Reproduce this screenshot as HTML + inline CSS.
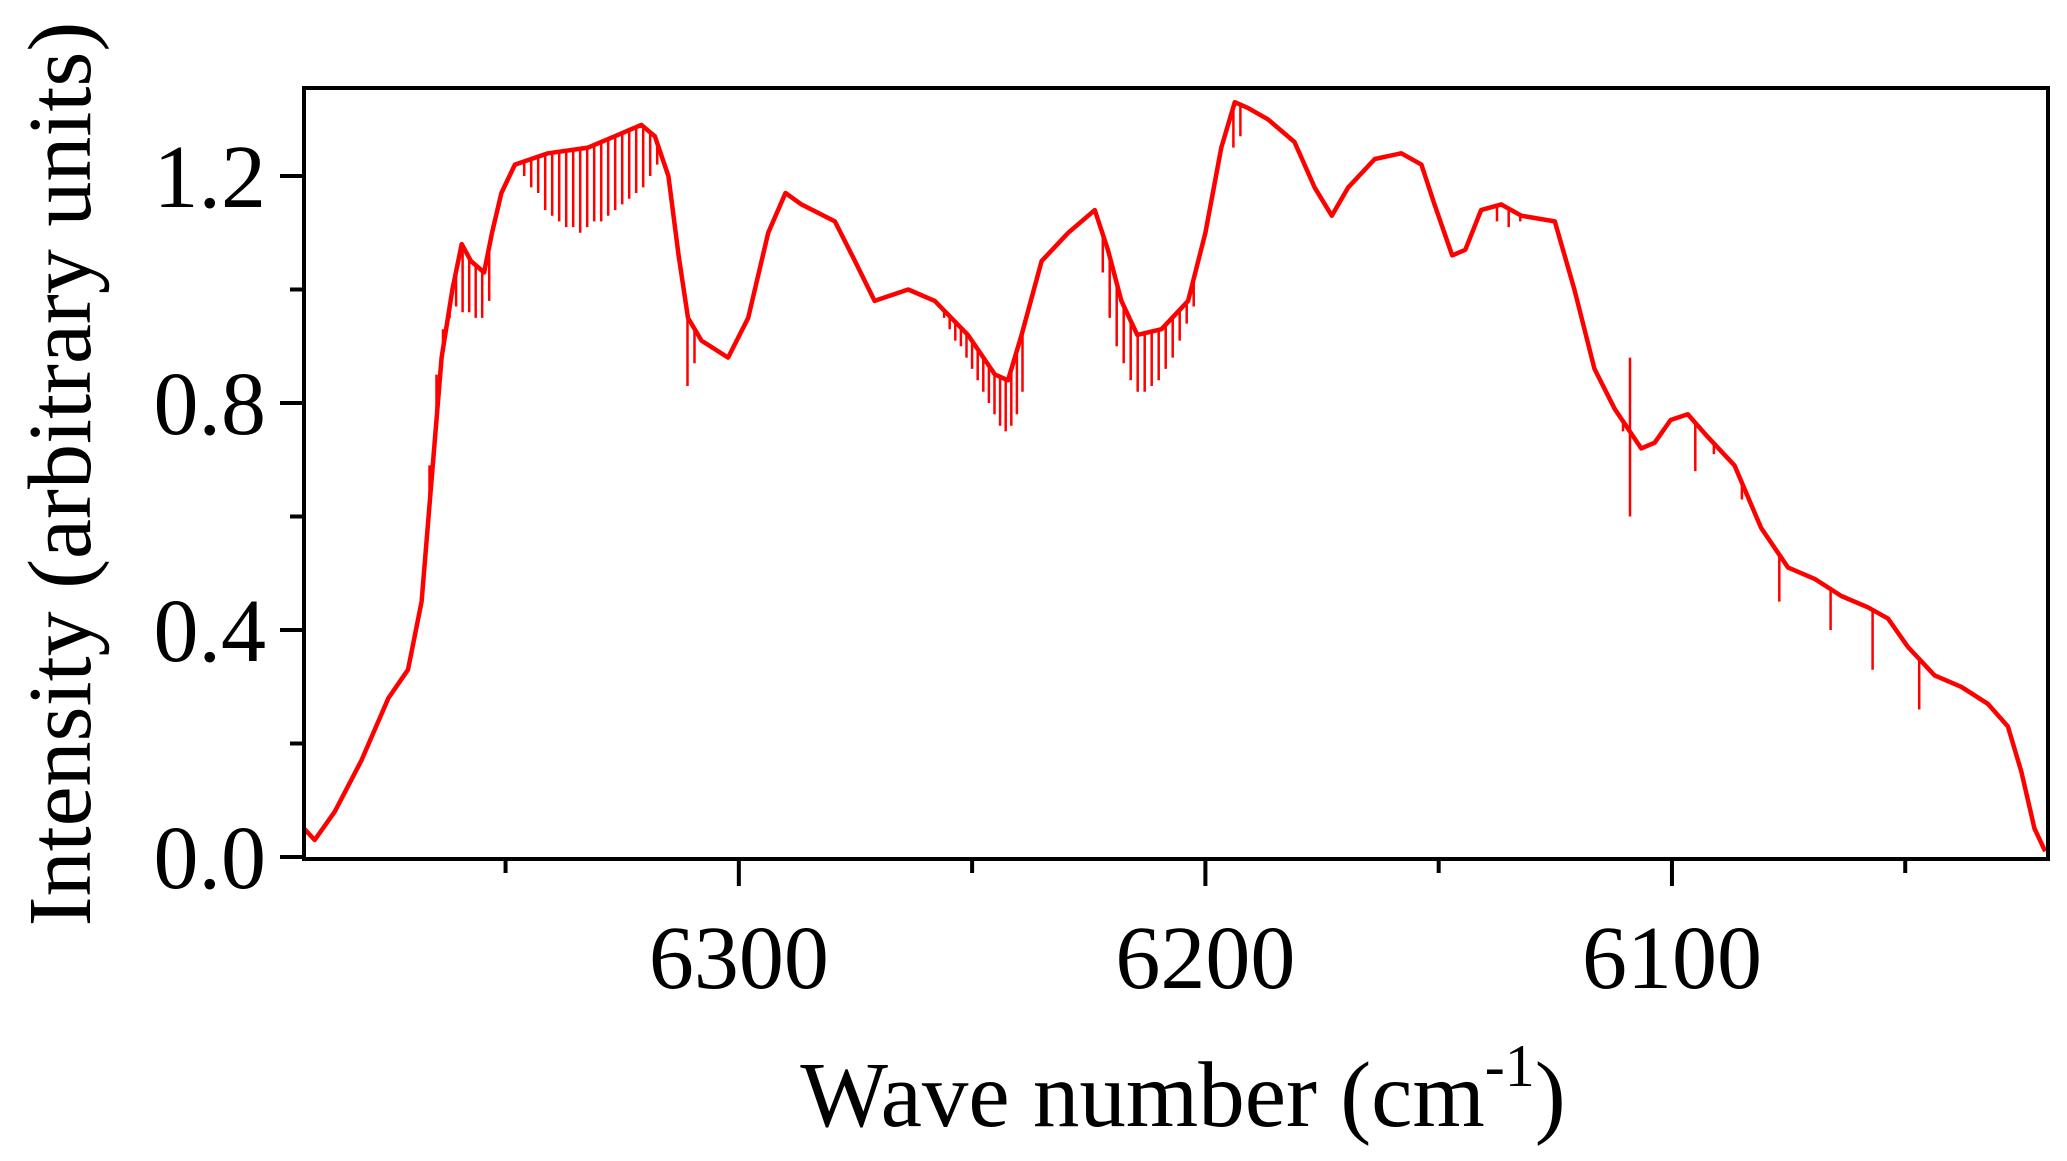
<!DOCTYPE html>
<html><head><meta charset="utf-8"><style>
html,body{margin:0;padding:0;background:#fff;}
svg{display:block;}
text{font-family:"Liberation Serif",serif;fill:#000;}
</style></head><body>
<svg id="chart" width="2067" height="1161" viewBox="0 0 2067 1161" xmlns="http://www.w3.org/2000/svg">
<defs><clipPath id="plotclip"><rect x="306" y="90" width="1740" height="767"/></clipPath></defs>
<g id="axes"></g>
<g clip-path="url(#plotclip)">
<path id="curve" fill="none" stroke="#ff0000" stroke-width="4.5" stroke-linejoin="round"></path>
<path id="dips" fill="none" stroke="#ff0000" stroke-width="2.5"></path>
</g>
<rect x="304" y="88" width="1744" height="771" fill="none" stroke="#000" stroke-width="4"/>
<text x="1183" y="1126" font-size="93" text-anchor="middle">Wave number (cm<tspan font-size="60" dy="-40">-1</tspan><tspan dy="40">)</tspan></text>
<text transform="translate(90,474) rotate(-90)" font-size="90" text-anchor="middle">Intensity (arbitrary units)</text>
</svg>
<script>
const wavenumbers=[6394.3,6390.9,6386.6,6380.9,6375.1,6370.9,6368.0,6366.0,6363.7,6361.4,6359.4,6357.4,6354.6,6352.9,6350.9,6348.0,6340.9,6332.3,6326.6,6320.9,6318.0,6315.1,6312.9,6310.9,6308.0,6302.3,6298.0,6293.7,6290.0,6286.6,6279.4,6275.1,6270.9,6263.7,6258.0,6250.9,6245.1,6242.3,6239.4,6235.1,6229.4,6223.7,6220.9,6218.0,6214.6,6209.4,6203.7,6200.0,6196.6,6193.7,6190.9,6186.6,6180.9,6176.6,6172.9,6169.4,6163.7,6158.0,6153.7,6150.9,6147.1,6144.3,6140.9,6136.6,6132.3,6125.1,6120.9,6116.6,6112.3,6106.6,6103.7,6100.3,6096.6,6092.3,6086.6,6080.9,6075.1,6069.4,6063.7,6058.0,6053.7,6049.4,6043.7,6038.0,6032.3,6028.0,6025.1,6022.3,6020.0];
const intensities=[0.06,0.03,0.08,0.17,0.28,0.33,0.45,0.65,0.88,1.0,1.08,1.05,1.03,1.1,1.17,1.22,1.24,1.25,1.27,1.29,1.27,1.2,1.06,0.95,0.91,0.88,0.95,1.1,1.17,1.15,1.12,1.05,0.98,1.0,0.98,0.92,0.85,0.84,0.92,1.05,1.1,1.14,1.07,0.98,0.92,0.93,0.98,1.1,1.25,1.33,1.32,1.3,1.26,1.18,1.13,1.18,1.23,1.24,1.22,1.15,1.06,1.07,1.14,1.15,1.13,1.12,1.0,0.86,0.79,0.72,0.73,0.77,0.78,0.74,0.69,0.58,0.51,0.49,0.46,0.44,0.42,0.37,0.32,0.30,0.27,0.23,0.15,0.05,0.01];
const dipPositions=[6366.3,6364.8,6363.4,6362.0,6360.6,6359.2,6357.8,6356.4,6355.0,6353.5,
6346.0,6344.5,6343.0,6341.5,6340.0,6338.5,6337.0,6335.5,6334.0,6332.5,6331.0,6329.5,6328.0,6326.5,6325.0,6323.5,6322.0,6320.5,6319.0,6317.5,
6311.0,6309.5,
6256.0,6254.8,6253.6,6252.4,6251.2,6250.0,6248.8,6247.6,6246.4,6245.2,6244.0,6242.8,6241.6,6240.4,6239.2,
6222.0,6220.5,6219.0,6217.5,6216.0,6214.5,6213.0,6211.5,6210.0,6208.5,6207.0,6205.5,6204.0,6202.5,
6194.0,6192.5,6137.5,6135.0,6132.5,6110.5,6109.0,6095.0,6091.0,6085.0,6077.0,6066.0,6057.0,6047.0];
const dipValues=[0.69,0.85,0.93,0.95,0.97,0.96,0.96,0.95,0.95,0.98,
1.20,1.18,1.17,1.14,1.13,1.12,1.11,1.11,1.10,1.11,1.12,1.12,1.13,1.14,1.15,1.16,1.17,1.18,1.20,1.22,
0.83,0.87,
0.95,0.93,0.91,0.90,0.88,0.86,0.84,0.82,0.80,0.78,0.76,0.75,0.76,0.78,0.82,
1.03,0.95,0.90,0.87,0.84,0.82,0.82,0.83,0.84,0.86,0.88,0.91,0.94,0.97,
1.25,1.27,1.12,1.11,1.12,0.75,0.60,0.68,0.71,0.63,0.45,0.40,0.33,0.26];
const spikePositions=[6109.0];
const spikeValues=[0.88];
const xTicks=[6300,6200,6100];
const xMinorTicks=[6350,6250,6150,6050];
const yTicks=[0.0,0.4,0.8,1.2];
const yTickLabels=["0.0","0.4","0.8","1.2"];
const yMinorTicks=[0.2,0.6,1.0];

const X0=304,X1=2048,W0=6393.2,W1=6019.4,Y0=857,PXU=567.5;
const sx=w=>X0+(W0-w)/(W0-W1)*(X1-X0);
const sy=v=>Y0-v*PXU;
function interp(w){
  for(let i=0;i<wavenumbers.length-1;i++){
    const a=wavenumbers[i],b=wavenumbers[i+1];
    if(w<=a&&w>=b){const t=(a-w)/(a-b);return intensities[i]+t*(intensities[i+1]-intensities[i]);}
  }
  return w>wavenumbers[0]?intensities[0]:intensities[intensities.length-1];
}
const NS="http://www.w3.org/2000/svg";
let d="";
wavenumbers.forEach((w,i)=>{d+=(i?"L":"M")+sx(w).toFixed(1)+","+sy(intensities[i]).toFixed(1);});
document.getElementById('curve').setAttribute('d',d);
let dd="";
dipPositions.forEach((w,i)=>{const x=sx(w).toFixed(1);dd+="M"+x+","+sy(interp(w)).toFixed(1)+"L"+x+","+sy(dipValues[i]).toFixed(1);});
spikePositions.forEach((w,i)=>{const x=sx(w).toFixed(1);dd+="M"+x+","+sy(interp(w)).toFixed(1)+"L"+x+","+sy(spikeValues[i]).toFixed(1);});
document.getElementById('dips').setAttribute('d',dd);
const ax=document.getElementById('axes');
function line(x1,y1,x2,y2,name){const l=document.createElementNS(NS,'line');
l.setAttribute('x1',x1);l.setAttribute('y1',y1);l.setAttribute('x2',x2);l.setAttribute('y2',y2);
l.setAttribute('stroke','#000');l.setAttribute('stroke-width','4');


ax.appendChild(l);}
function text(x,y,s,anchor,name){const t=document.createElementNS(NS,'text');
t.setAttribute('x',x);t.setAttribute('y',y);t.setAttribute('font-size','90');t.setAttribute('text-anchor',anchor);t.textContent=s;


ax.appendChild(t);}
xTicks.forEach(w=>{const x=sx(w);line(x,859,x,886,'x-major-tick');text(x,988,String(w),'middle','x-tick-label');});
xMinorTicks.forEach(w=>{const x=sx(w);line(x,859,x,873,'x-minor-tick');});
yTicks.forEach((v,i)=>{const y=sy(v);line(280,y,304,y,'y-major-tick');text(266,y+31,yTickLabels[i],'end','y-tick-label');});
yMinorTicks.forEach(v=>{const y=sy(v);line(290,y,304,y,'y-minor-tick');});
</script>
</body></html>
